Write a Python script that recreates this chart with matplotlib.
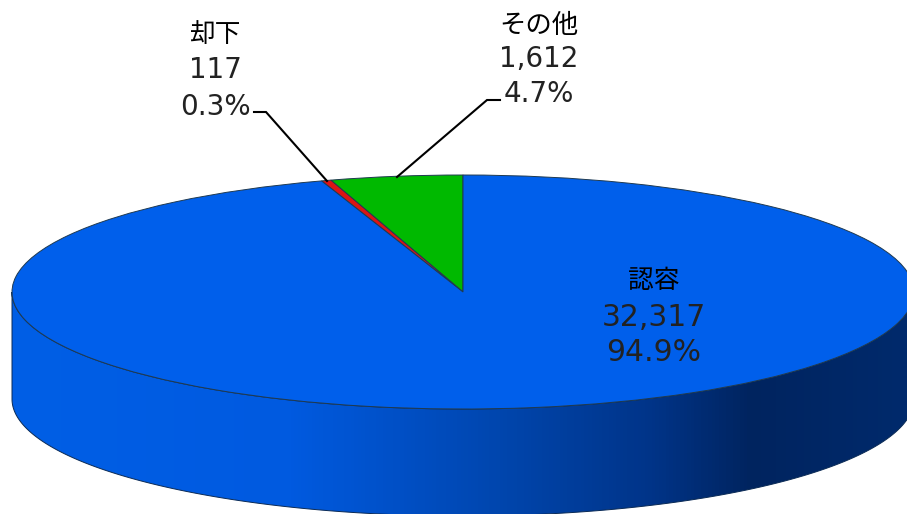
import numpy as np
import matplotlib
matplotlib.use("Agg")
import matplotlib.pyplot as plt
from matplotlib.colors import LinearSegmentedColormap
from matplotlib.patches import Polygon

# data
categories = ["その他", "却下", "認容"]
counts = [1612, 117, 32317]
colors = ["#00B900", "#DC1414", "#005FEB"]

W, H = 907, 514
CX, CY = 463, 292   # pie centre in pixels
RX, RY = 451, 117   # top ellipse
DEPTH = 107

# label centres in pixels, per line
label_x = [539, 215, 654]
label_y = [(25, 59, 94), (35, 70, 107), (281, 317, 352)]
label_size = [20, 20, 21.5]

def px(x, y):
  return (np.asarray(x, dtype=float)-CX)/RX, (CY-np.asarray(y, dtype=float))/RY

fig = plt.figure(figsize=(W/100, H/100), dpi=100)
ax = fig.add_axes([0, 0, 1, 1])

# side of the cylinder
t = np.linspace(np.pi, 2*np.pi, 300)
xs = np.cos(t)
ys = np.sin(t)
d = DEPTH/RY
side = np.column_stack([np.r_[xs, xs[::-1]], np.r_[ys-d, ys[::-1]]])

x0, y0 = px(0, H)
x1, y1 = px(W, 0)
shade = LinearSegmentedColormap.from_list("shade", [
  (0.0, "#005FE6"), (0.32, "#005AE0"), (0.55, "#0046AE"),
  (0.72, "#003488"), (0.83, "#00245F"), (1.0, "#002A6C")])
im = ax.imshow(np.linspace(0, 1, W).reshape(1, -1), cmap=shade, aspect="auto",
               extent=(x0, x1, y0, y1), zorder=1)
clip = Polygon(side, closed=True, transform=ax.transData, fc="none",
               ec="#0A2A55", lw=0.7, zorder=2)
ax.add_patch(clip)
im.set_clip_path(clip)

# top face
ax.pie(counts, colors=colors, startangle=90, counterclock=True,
       wedgeprops=dict(edgecolor="#1F3A50", linewidth=0.7, zorder=3))
ax.set_aspect("auto")
ax.set_xlim(x0, x1)
ax.set_ylim(y0, y1)
ax.axis("off")

# leader lines
lx, ly = px([254, 266, 327], [112, 112, 181])
ax.plot(lx, ly, color="black", lw=1.5, zorder=4, solid_joinstyle="miter")
lx, ly = px([500, 487, 397], [100, 100, 177])
ax.plot(lx, ly, color="black", lw=1.5, zorder=4, solid_joinstyle="miter")

# labels
total = sum(counts)
for name, n, x, ys_, fs in zip(categories, counts, label_x, label_y, label_size):
  px_x, py = px(x, ys_[0])
  ax.text(px_x, py, name, ha="center", va="center", fontsize=19 if n == 1612 else 18.5,
          color="black", family=["Noto Sans CJK JP", "DejaVu Sans"], zorder=5)
  for txt, yy in zip([f"{n:,}", f"{n/total*100:.1f}%"], ys_[1:]):
    px_x, py = px(x, yy)
    ax.text(px_x, py, txt, ha="center", va="center", fontsize=fs, color="#222222",
            family="DejaVu Sans", zorder=5)

fig.savefig("out.png", dpi=100, facecolor="white")
